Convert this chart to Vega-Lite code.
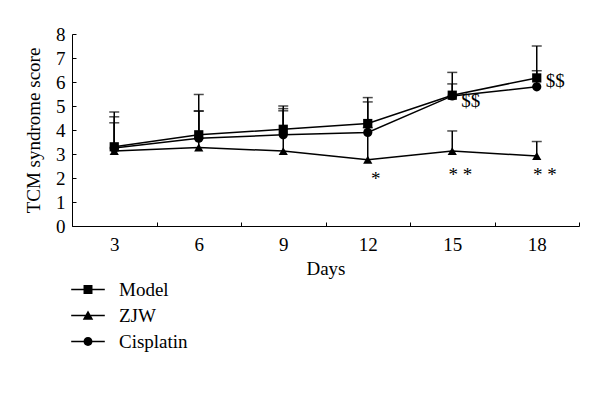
{
  "$schema": "https://vega.github.io/schema/vega-lite/v6.json",
  "width": 507,
  "height": 192,
  "autosize": "none",
  "padding": {"left": 72, "top": 34, "right": 21, "bottom": 178},
  "background": "white",
  "config": {
    "font": "Liberation Serif",
    "view": {"stroke": null},
    "axis": {
      "grid": false,
      "domainColor": "black",
      "tickColor": "black",
      "labelColor": "black",
      "titleColor": "black",
      "labelFont": "Liberation Serif",
      "titleFont": "Liberation Serif",
      "labelFontSize": 19,
      "titleFontSize": 19,
      "titleFontWeight": "normal",
      "domainWidth": 1,
      "tickWidth": 1
    },
    "legend": {
      "labelFont": "Liberation Serif",
      "labelFontSize": 19,
      "labelColor": "black"
    }
  },
  "datasets": {
    "scores": [
      {"day": 3, "group": "Model", "mean": 3.3, "upper": 4.75},
      {"day": 6, "group": "Model", "mean": 3.8, "upper": 5.48},
      {"day": 9, "group": "Model", "mean": 4.03, "upper": 5.0},
      {"day": 12, "group": "Model", "mean": 4.27, "upper": 5.35},
      {"day": 15, "group": "Model", "mean": 5.45, "upper": 6.4},
      {"day": 18, "group": "Model", "mean": 6.17, "upper": 7.5},
      {"day": 3, "group": "ZJW", "mean": 3.12, "upper": 4.3},
      {"day": 6, "group": "ZJW", "mean": 3.27, "upper": 4.78},
      {"day": 9, "group": "ZJW", "mean": 3.12, "upper": 4.8},
      {"day": 12, "group": "ZJW", "mean": 2.76, "upper": 4.1},
      {"day": 15, "group": "ZJW", "mean": 3.12, "upper": 3.96},
      {"day": 18, "group": "ZJW", "mean": 2.92, "upper": 3.52},
      {"day": 3, "group": "Cisplatin", "mean": 3.25, "upper": 4.55},
      {"day": 6, "group": "Cisplatin", "mean": 3.66, "upper": 4.8},
      {"day": 9, "group": "Cisplatin", "mean": 3.8, "upper": 4.89},
      {"day": 12, "group": "Cisplatin", "mean": 3.9, "upper": 5.17},
      {"day": 15, "group": "Cisplatin", "mean": 5.42, "upper": 5.92},
      {"day": 18, "group": "Cisplatin", "mean": 5.8, "upper": 6.47}
    ],
    "stars": [
      {"day": 12, "label": "*", "y": 2.15},
      {"day": 15, "label": "* *", "y": 2.35},
      {"day": 18, "label": "* *", "y": 2.35}
    ],
    "dollars": [
      {"day": 15, "label": "$$", "y": 5.2},
      {"day": 18, "label": "$$", "y": 6.06}
    ]
  },
  "encoding": {
    "x": {
      "field": "day",
      "type": "ordinal",
      "scale": {"type": "band", "paddingInner": 0, "paddingOuter": 0},
      "axis": {
        "title": "Days",
        "labelAngle": 0,
        "tickBand": "extent",
        "tickSize": -4,
        "labelPadding": 13,
        "titlePadding": 5
      }
    }
  },
  "layer": [
    {
      "data": {"name": "scores"},
      "mark": {"type": "line", "color": "black", "strokeWidth": 1.5},
      "encoding": {
        "y": {
          "field": "mean",
          "type": "quantitative",
          "scale": {"domain": [0, 8], "nice": false},
          "axis": {
            "title": "TCM syndrome score",
            "tickCount": 8,
            "tickSize": -4,
            "labelPadding": 11,
            "titlePadding": 12
          }
        },
        "detail": {"field": "group"}
      }
    },
    {
      "data": {"name": "scores"},
      "mark": {"type": "rule", "color": "black", "strokeWidth": 1.5},
      "encoding": {
        "y": {"field": "mean", "type": "quantitative"},
        "y2": {"field": "upper"}
      }
    },
    {
      "data": {"name": "scores"},
      "mark": {"type": "tick", "color": "black", "thickness": 1.5, "size": 10, "orient": "horizontal"},
      "encoding": {
        "y": {"field": "upper", "type": "quantitative"}
      }
    },
    {
      "data": {"name": "scores"},
      "mark": {"type": "point", "filled": true, "color": "black", "opacity": 1, "size": 85},
      "encoding": {
        "y": {"field": "mean", "type": "quantitative"},
        "shape": {
          "field": "group",
          "type": "nominal",
          "scale": {"domain": ["Model", "ZJW", "Cisplatin"], "range": ["square", "triangle-up", "circle"]},
          "legend": null
        }
      }
    },
    {
      "data": {"name": "scores"},
      "mark": {"type": "point", "filled": true, "fill": "black", "opacity": 1, "size": 0},
      "encoding": {
        "y": {"field": "mean", "type": "quantitative"},
        "shape": {
          "field": "group",
          "type": "nominal",
          "scale": {
            "domain": ["Model", "ZJW", "Cisplatin"],
            "range": [
              "M-2.1,-0.1L2.1,-0.1L2.1,0.1L-2.1,0.1Z M-0.56,-0.56L0.56,-0.56L0.56,0.56L-0.56,0.56Z",
              "M-2.1,-0.1L2.1,-0.1L2.1,0.1L-2.1,0.1Z M0,-0.62L0.66,0.52L-0.66,0.52Z",
              "M-2.1,-0.1L2.1,-0.1L2.1,0.1L-2.1,0.1Z M-0.56,0A0.56,0.56,0,0,1,0.56,0A0.56,0.56,0,0,1,-0.56,0Z"
            ]
          },
          "legend": {
            "title": null,
            "orient": "none",
            "legendX": 6.5,
            "legendY": 246,
            "padding": 0,
            "symbolSize": 256,
            "symbolFillColor": "black",
            "symbolStrokeWidth": 0,
            "symbolOpacity": 1,
            "labelOffset": 21.5,
            "rowPadding": 6,
            "encode": {
              "symbols": {
                "update": {
                  "fill": {"value": "black"},
                  "strokeWidth": {"value": 0},
                  "opacity": {"value": 1},
                  "size": {"value": 256}
                }
              }
            }
          }
        }
      }
    },
    {
      "data": {"name": "stars"},
      "mark": {"type": "text", "font": "Liberation Serif", "fontSize": 19, "color": "black", "align": "center", "baseline": "middle", "dx": 8, "dy": 5},
      "encoding": {
        "y": {"field": "y", "type": "quantitative"},
        "text": {"field": "label"}
      }
    },
    {
      "data": {"name": "dollars"},
      "mark": {"type": "text", "font": "Liberation Serif", "fontSize": 19, "color": "black", "align": "left", "baseline": "middle", "dx": 9},
      "encoding": {
        "y": {"field": "y", "type": "quantitative"},
        "text": {"field": "label"}
      }
    }
  ],
  "resolve": {"scale": {"shape": "independent"}}
}
